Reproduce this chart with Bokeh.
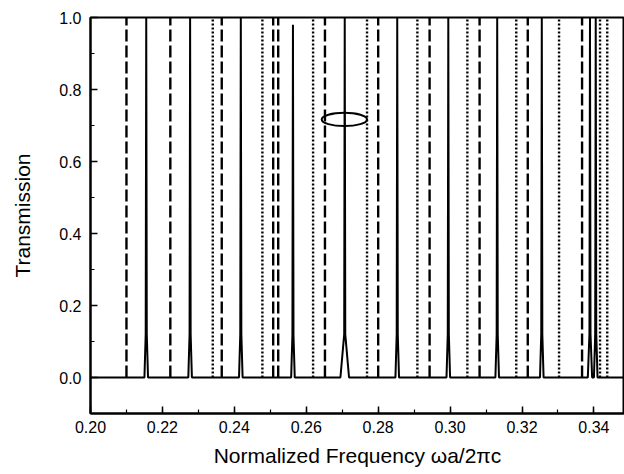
from bokeh.plotting import figure
from bokeh.models import Range1d, SingleIntervalTicker, NumeralTickFormatter
from bokeh.embed import file_html
from bokeh.resources import INLINE

# ---- data ----
# solid curve: resonance peak positions and heights
solid_peaks = [0.2155, 0.2277, 0.2418, 0.2563, 0.2707, 0.2853, 0.2995, 0.3131, 0.3255, 0.3389, 0.3405]
solid_heights = [1.0, 1.0, 1.0, 0.98, 1.0, 1.0, 1.0, 1.0, 1.0, 1.0, 1.0]
solid_base = [0.0005, 0.0005, 0.0005, 0.0005, 0.0012, 0.0005, 0.0005, 0.0005, 0.0005, 0.0006, 0.0005]

# dashed curve
dashed_peaks = [0.2100, 0.2222, 0.2365, 0.2508, 0.2522, 0.2652, 0.2800, 0.2943, 0.3082, 0.3216, 0.3367]
dashed_heights = [1.0] * len(dashed_peaks)

# dotted curve
dotted_peaks = [0.2340, 0.2478, 0.2619, 0.2769, 0.2909, 0.3048, 0.3184, 0.3303, 0.3417, 0.3437]
dotted_heights = [1.0] * len(dotted_peaks)

# annotation ellipse (centre x, centre y, width, height in data units)
ellipse_x = [0.2706]
ellipse_y = [0.717]
ellipse_w = [0.0126]
ellipse_h = [0.037]

x_start, x_end = 0.20, 0.3485
y_start, y_end = -0.1, 1.0

# ---- build the solid spectrum polyline (baseline + peaks) ----
sx, sy = [x_start], [0.0]
for c, h, wb in zip(solid_peaks, solid_heights, solid_base):
    wn = 0.00015
    sx += [c - wb, c - wn, c, c + wn, c + wb]
    sy += [0.0, 0.12 * h, h, 0.12 * h, 0.0]
sx.append(x_end)
sy.append(0.0)

FONT = "Liberation Sans"

p = figure(width=624, height=472, output_backend="svg", toolbar_location=None,
           x_range=Range1d(x_start, x_end), y_range=Range1d(y_start, y_end),
           min_border_left=90, min_border_right=0, min_border_top=17, min_border_bottom=59)
p.grid.visible = False
p.background_fill_color = "white"
p.border_fill_color = "white"
p.outline_line_color = "black"
p.outline_line_width = 2

p.line(sx, sy, line_color="black", line_width=2)
p.segment(x0=dashed_peaks, y0=[0.0] * len(dashed_peaks), x1=dashed_peaks, y1=dashed_heights,
          line_color="black", line_width=2.4, line_dash="12 4")
p.segment(x0=dotted_peaks, y0=[0.0] * len(dotted_peaks), x1=dotted_peaks, y1=dotted_heights,
          line_color="black", line_width=2.4, line_dash="2 2")
p.ellipse(x=ellipse_x, y=ellipse_y, width=ellipse_w, height=ellipse_h,
          fill_color=None, line_color="black", line_width=2)

# axes
xa = p.xaxis[0]
xa.ticker = SingleIntervalTicker(interval=0.02, num_minor_ticks=2)
xa.formatter = NumeralTickFormatter(format="0.00")
xa.axis_label = "Normalized Frequency \u03c9a/2\u03c0c"
ya = p.yaxis[0]
ya.ticker = SingleIntervalTicker(interval=0.2, num_minor_ticks=2)
ya.formatter = NumeralTickFormatter(format="0.0")
ya.axis_label = "Transmission"

for ax in (xa, ya):
    ax.axis_line_color = "black"
    ax.axis_line_width = 2
    ax.major_tick_in = 7
    ax.major_tick_out = 0
    ax.minor_tick_in = 4
    ax.minor_tick_out = 0
    ax.major_tick_line_width = 1.5
    ax.minor_tick_line_width = 1.2
    ax.major_label_text_font = FONT
    ax.major_label_text_font_size = "16px"
    ax.major_label_text_color = "black"
    ax.axis_label_text_font = FONT
    ax.axis_label_text_font_size = "21px"
    ax.axis_label_text_font_style = "normal"
    ax.axis_label_text_color = "black"
xa.major_label_standoff = 7
xa.axis_label_standoff = 8
ya.major_label_standoff = 9
ya.axis_label_standoff = 22

open("out.html", "w").write(file_html(p, INLINE))
